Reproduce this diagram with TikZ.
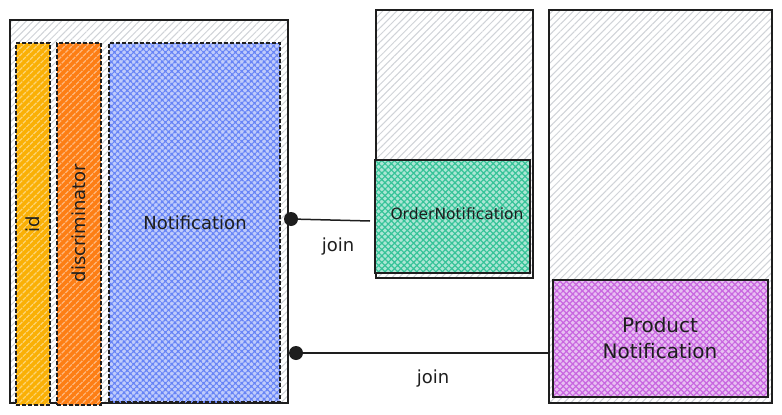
\documentclass[tikz,border=0pt]{standalone}
\usepackage{fontspec}
\setmainfont{DejaVu Sans}
\usetikzlibrary{patterns.meta}
\definecolor{ink}{HTML}{1E1E1E}
\definecolor{hgray}{HTML}{D0D3D8}
\definecolor{cyel}{HTML}{FAB005}
\definecolor{cora}{HTML}{FD7E14}
\definecolor{cblue}{HTML}{4C6EF5}
\definecolor{cgreen}{HTML}{12B886}
\definecolor{cpurp}{HTML}{BE4BDB}
\tikzset{
  x=1pt, y=-1pt,
  every node/.style={inner sep=0pt, outer sep=0pt},
  frame/.style={draw=ink, line width=1.4pt, preaction={fill=white},
    pattern={Lines[angle=45,distance=5pt,line width=1pt]}, pattern color=hgray},
  colbox/.style={draw=ink, line width=1.2pt, dash pattern=on 4pt off 2pt, preaction={fill=#1},
    pattern={Lines[angle=45,distance=5pt,line width=1.2pt]}, pattern color=#1!55!white},
  hatchbox/.style={draw=ink, line width=1.4pt, preaction={fill=#1!35!white},
    pattern={Hatch[angle=45,distance=4.5pt,line width=1.2pt]}, pattern color=#1!85!white},
  dashhatch/.style={hatchbox=#1, line width=1.2pt, dash pattern=on 4pt off 2pt},
  dotnode/.style={circle, fill=ink, minimum size=14pt},
  conn/.style={draw=ink, line width=1.5pt},
  lbl/.style={font=\fontsize{18}{21}\selectfont, text=ink},
}
\begin{document}
\begin{tikzpicture}
\useasboundingbox (0,0) rectangle (782,415);
% left table
\node[frame, minimum width=278pt, minimum height=383pt] (tbl) at (149,211.5) {};
\node[colbox=cyel, minimum width=34pt, minimum height=362pt] (idc) at (33,224) {};
\node[colbox=cora, minimum width=44pt, minimum height=362pt] (disc) at (79,224) {};
\node[dashhatch=cblue, minimum width=171pt, minimum height=359pt] (noti) at (194.5,222.5) {};
\node[lbl, rotate=90] (idt) at (33,224) {id};
\node[lbl, rotate=90] (disct) at (79,223) {discriminator};
\node[lbl] (notit) at (195,223) {Notification};
% middle table
\node[frame, minimum width=157pt, minimum height=268pt] (mid) at (454.5,144) {};
\node[hatchbox=cgreen, minimum width=155pt, minimum height=113pt] (order) at (452.5,216.5) {};
\node[lbl, font=\fontsize{15.5}{18}\selectfont] (ordert) at (457,214) {OrderNotification};
% right table
\node[frame, minimum width=223pt, minimum height=393pt] (rgt) at (660.5,206.5) {};
\node[hatchbox=cpurp, minimum width=215pt, minimum height=117pt] (prod) at (660.5,338.5) {};
\node[lbl, font=\fontsize{20}{26}\selectfont, align=center] (prodt) at (660,338) {Product\\Notification};
% joins
\node[dotnode] (j1) at (291,219) {};
\node[dotnode] (j2) at (296,353) {};
\coordinate (e1) at (370,221);
\draw[conn] (j1.center) -- (e1);
\draw[conn] (j2.center) -- (rgt.west |- j2);
\node[lbl] (join1) at (338,247) {join};
\node[lbl] (join2) at (433,379) {join};
\end{tikzpicture}
\end{document}
